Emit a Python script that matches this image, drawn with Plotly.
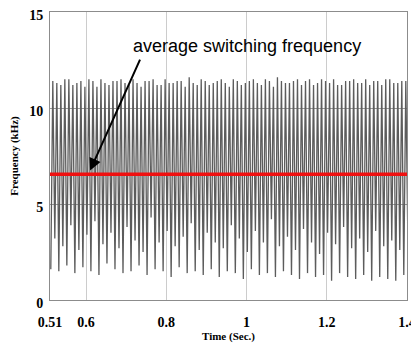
import plotly.graph_objects as go

# period start times (deep troughs), seconds
deep_t = [0.512,0.532,0.552,0.572,0.592,0.612,0.632,0.652,0.672,0.692,0.712,0.732,0.752,0.772,0.792,
          0.812,0.832,0.852,0.872,0.892,0.912,0.932,0.952,0.972,0.992,1.012,1.032,1.052,1.072,1.092,
          1.112,1.132,1.152,1.172,1.192,1.212,1.232,1.252,1.272,1.292,1.312,1.332,1.352,1.372,1.392]
deep = [1.6,1.5,1.8,1.4,1.7,1.5,1.3,1.9,1.6,1.4,1.5,1.8,1.3,1.6,1.5,1.2,1.7,1.4,1.5,1.3,1.6,1.2,1.5,
        1.4,1.1,1.6,1.3,1.4,1.2,1.5,1.3,1.1,1.4,1.2,1.3,1.0,1.4,1.2,1.1,1.3,1.0,1.2,1.1,1.0,1.3]
peak1 = [11.4,11.2,11.5,11.3,11.1,11.4,11.5,11.2,11.4,11.3,11.5,11.1,11.4,11.2,11.5,11.3,11.4,11.6,
         11.2,11.4,11.3,11.5,11.1,11.4,11.3,11.5,11.2,11.4,11.6,11.3,11.4,11.2,11.5,11.3,11.4,11.5,
         11.2,11.4,11.3,11.5,11.4,11.2,11.5,11.3,11.4]
shallow = [3.2,2.8,3.9,2.6,3.4,4.1,2.9,3.5,2.7,3.8,3.1,2.5,4.3,3.0,3.6,2.8,3.3,4.0,2.6,3.5,3.0,2.7,
           3.9,3.2,2.5,3.6,3.0,4.2,2.8,3.3,2.6,3.7,3.0,2.4,3.5,2.9,3.8,2.7,3.2,2.5,3.6,2.8,3.1,2.6,3.4]
peak2 = [11.3,11.5,11.2,11.4,11.5,11.1,11.3,11.4,11.5,11.2,11.3,11.4,11.5,11.2,11.3,11.4,11.1,11.3,
         11.5,11.2,11.4,11.3,11.5,11.2,11.4,11.3,11.5,11.1,11.4,11.3,11.5,11.4,11.2,11.5,11.3,11.2,
         11.4,11.5,11.3,11.2,11.4,11.5,11.3,11.4,11.2]

avg_x = [0.51, 1.4]
avg_y = [6.55, 6.55]

x_ticks = [0.51, 0.6, 0.8, 1.0, 1.2, 1.4]
x_ticktext = ["0.51", "0.6", "0.8", "1", "1.2", "1.4"]
y_ticks = [0, 5, 10, 15]

# build switching-frequency waveform vertices
sx, sy = [], []
for i, t0 in enumerate(deep_t):
    q = 0.005
    sx += [t0, t0 + q, t0 + 2 * q, t0 + 3 * q]
    sy += [deep[i], peak1[i], shallow[i], peak2[i]]

fig = go.Figure()
fig.add_trace(go.Scatter(x=sx, y=sy, mode="lines",
                         line=dict(color="#5c5c5c", width=1.3), showlegend=False))
fig.add_trace(go.Scatter(x=avg_x, y=avg_y, mode="lines",
                         line=dict(color="#f01010", width=3.5), showlegend=False))

fig.add_annotation(x=0.61, y=6.75, ax=0.735, ay=12.55, axref="x", ayref="y",
                   xref="x", yref="y", text="", showarrow=True, font=dict(size=1),
                   borderpad=0, arrowhead=2, arrowsize=1.2, arrowwidth=2, arrowcolor="black")
fig.add_annotation(x=1.0, y=13.25, xref="x", yref="y", text="average switching frequency",
                   showarrow=False, font=dict(family="Liberation Sans, Arial", size=18, color="black"))

tick_font = dict(family="Liberation Serif", size=14, color="black", weight="bold")
title_font = dict(family="Liberation Serif", size=11, color="black")
fig.update_xaxes(range=[0.51, 1.4], tickvals=x_ticks, ticktext=x_ticktext,
                 showgrid=True, gridcolor="#cccccc", gridwidth=1,
                 showline=True, linecolor="#8c8c8c", linewidth=1, mirror=True,
                 ticks="", ticklabelstandoff=9, tickfont=tick_font, zeroline=False,
                 automargin=False, ticklabeloverflow="allow",
                 title=dict(text="<b>Time (Sec.)</b>", standoff=3, font=title_font))
fig.update_yaxes(range=[0, 15], tickvals=y_ticks,
                 showgrid=True, gridcolor="#999999", gridwidth=1,
                 showline=True, linecolor="#8c8c8c", linewidth=1, mirror=True,
                 ticks="", ticklabelstandoff=3, ticklabelshift=3, tickfont=tick_font, zeroline=False,
                 automargin=False, ticklabeloverflow="allow",
                 title=dict(text="<b>Frequency (kHz)</b>", standoff=10, font=title_font))
fig.update_layout(width=411, height=342, margin=dict(l=42, r=12, t=4, b=50),
                  plot_bgcolor="white", paper_bgcolor="white")
fig.write_html("out.html")
